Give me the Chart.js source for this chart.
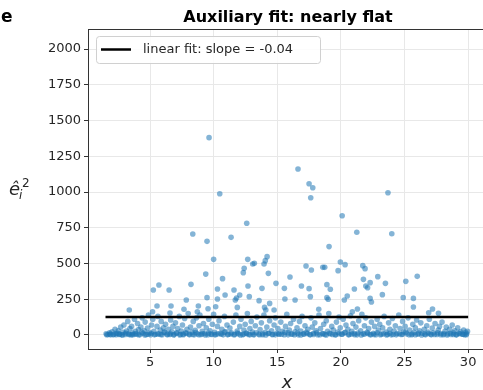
<!DOCTYPE html>
<html>
<head>
<meta charset="utf-8">
<script src="https://cdn.jsdelivr.net/npm/chart.js@4.4.1/dist/chart.umd.min.js"></script>
<style>
  html, body { margin: 0; padding: 0; background: #fff; overflow: hidden; width: 483px; height: 390px; }
  canvas { display: block; }
</style>
</head>
<body>
<canvas id="auxChart" width="496" height="390"></canvas>
<script>
// Data
const xTicks = [5, 10, 15, 20, 25, 30];
const yTicks = [0, 250, 500, 750, 1000, 1250, 1500, 1750, 2000];

// scattered residuals well above the band
const upperPts = [
  [9.64,1380],[10.48,988],[12.6,781],[16.63,1161],[17.5,1058],[17.79,1030],[17.63,960],[23.7,995],[20.1,834],
  [5.26,315],[5.7,350],[6.5,315],[3.37,175],[5.2,163],[5.55,203],[6.65,203],[6.57,154],
  [8.36,706],[9.48,655],[11.37,683],[10.0,529],[12.68,529],[9.38,426],[8.22,354],[10.7,394],[12.4,466],[12.33,436],
  [7.85,245],[9.48,261],[10.3,322],[10.3,252],[10.9,280],[11.6,315],[11.7,245],[12.05,280],[12.7,343],[8.8,203],
  [9.56,184],[10.16,198],[11.86,193],[7.67,180],[8.72,163],
  [13.2,501],[13.07,496],[14.06,520],[14.2,548],[13.96,496],[14.3,431],[13.8,326],[14.9,361],[15.56,326],[16.0,406],
  [16.9,343],[17.5,324],[17.26,482],[17.68,455],[18.58,473],[12.8,268],[13.57,240],[14.4,221],[14.0,193],[14.1,175],
  [14.75,175],[15.6,252],[16.4,245],[18.26,180],[17.6,268],[11.8,259],
  [21.25,718],[24.0,708],[19.07,618],[19.96,510],[20.33,492],[19.78,450],[18.73,473],[21.72,485],[21.9,464],[21.77,389],
  [22.3,366],[21.96,343],[22.1,330],[22.9,408],[23.5,361],[18.9,352],[19.17,320],[21.06,322],[18.9,261],[19.0,250],
  [20.5,273],[20.27,245],[22.3,256],[22.4,231],[23.26,282],[21.3,182],[20.9,163],
  [25.1,375],[26.0,410],[24.9,261],[25.7,256],[25.7,196],[27.2,182],[26.9,156],[27.67,152]
];

// the dense band under ~150
const bandPts = [
  [1.55,8],[1.7,3],[1.82,15],[1.9,1],[2.02,22],[2.15,5],[2.25,40],[2.33,2],[2.45,12],[2.5,30],
  [2.6,6],[2.7,55],[2.78,1],[2.88,18],[2.95,70],[3.05,4],[3.15,28],[3.25,95],[3.3,9],[3.42,45],[3.48,2],
  [3.55,60],[3.62,14],[3.7,3],[3.78,110],[3.85,25],[3.95,7],[4.02,80],[4.1,38],[4.2,1],[4.28,55],[4.38,120],[4.45,11],
  [4.55,30],[4.62,90],[4.7,4],[4.8,48],[4.88,140],[4.95,16],[5.05,2],[5.12,70],[5.22,110],[5.3,25],[5.42,5],
  [5.55,60],[5.62,130],[5.7,8],[5.8,35],[5.88,95],[5.95,2],[6.05,50],[6.15,18],[6.22,75],[6.35,6],[6.45,40],
  [6.55,3],[6.62,105],[6.72,22],[6.8,60],[6.9,1],[7.0,85],[7.08,12],[7.18,45],[7.3,130],[7.38,5],[7.45,28],
  [7.55,70],[7.62,2],[7.72,115],[7.8,15],[7.9,40],[8.0,150],[8.08,6],[8.18,55],[8.3,20],[8.4,95],[8.48,1],
  [8.55,33],[8.65,120],[8.72,8],[8.85,65],[8.92,140],[9.0,3],[9.1,25],[9.2,80],[9.3,10],[9.42,50],
  [9.55,2],[9.62,110],[9.72,30],[9.8,6],[9.9,75],[10.0,145],[10.08,18],[10.18,4],[10.3,60],[10.42,100],
  [10.55,12],[10.65,40],[10.75,1],[10.85,130],[10.95,22],[11.05,70],[11.15,5],[11.28,48],[11.4,15],
  [11.55,90],[11.65,3],[11.75,140],[11.85,28],[11.95,8],[12.05,60],[12.15,110],[12.28,2],[12.38,35],[12.48,75],
  [12.55,14],[12.65,150],[12.75,4],[12.85,45],[12.95,95],[13.05,20],[13.18,1],[13.28,65],[13.4,125],
  [13.55,7],[13.65,38],[13.75,85],[13.85,2],[13.95,140],[14.05,18],[14.18,55],[14.28,10],[14.4,100],
  [14.55,30],[14.65,3],[14.75,70],[14.85,120],[14.95,12],[15.05,45],[15.15,5],[15.28,90],[15.4,25],
  [15.55,2],[15.65,60],[15.75,145],[15.85,15],[15.95,35],[16.05,80],[16.18,6],[16.28,110],[16.4,22],
  [16.55,50],[16.65,1],[16.75,95],[16.85,28],[16.95,130],[17.05,8],[17.18,65],[17.28,18],[17.4,40],
  [17.55,3],[17.65,120],[17.75,55],[17.85,12],[17.95,85],[18.05,30],[18.18,2],[18.28,140],[18.4,45],
  [18.55,10],[18.65,75],[18.75,4],[18.85,100],[18.95,25],[19.05,150],[19.18,8],[19.28,60],[19.4,35],
  [19.55,2],[19.65,90],[19.75,20],[19.85,125],[19.95,50],[20.05,6],[20.18,110],[20.28,15],[20.4,70],
  [20.55,40],[20.65,3],[20.75,135],[20.85,25],[20.95,80],[21.05,10],[21.18,55],[21.28,1],[21.4,100],
  [21.55,30],[21.65,145],[21.75,8],[21.85,65],[21.95,120],[22.05,18],[22.18,45],[22.28,4],[22.4,90],
  [22.55,12],[22.65,60],[22.75,2],[22.85,110],[22.95,35],[23.05,75],[23.18,6],[23.28,50],[23.4,130],
  [23.55,20],[23.65,5],[23.75,85],[23.85,40],[23.95,1],[24.05,115],[24.18,28],[24.28,65],[24.4,10],
  [24.55,140],[24.65,45],[24.75,3],[24.85,95],[24.95,22],[25.05,60],[25.18,8],[25.28,120],[25.4,35],
  [25.55,2],[25.65,75],[25.75,18],[25.85,50],[25.95,105],[26.05,5],[26.18,30],[26.28,85],[26.4,12],
  [26.55,40],[26.65,1],[26.75,65],[26.85,20],[26.95,110],[27.05,6],[27.18,48],[27.28,15],[27.4,80],
  [27.55,3],[27.65,35],[27.75,60],[27.85,10],[27.95,90],[28.05,2],[28.18,25],[28.28,55],[28.4,8],
  [28.55,40],[28.65,4],[28.75,70],[28.85,15],[28.95,30],[29.05,1],[29.18,50],[29.28,12],[29.4,22],
  [29.55,5],[29.65,35],[29.72,2],[29.8,18],[29.88,8],[29.95,25]
];

// near-zero residuals (the solid strip along the bottom)
const zeroPts = [
  [1.6,2],[1.85,6],[2.1,1],[2.35,10],[2.6,3],[2.85,0.5],[3.1,14],[3.35,4],[3.6,1],[3.85,8],[4.1,2],[4.35,18],
  [4.6,0.5],[4.85,5],[5.1,12],[5.35,1],[5.6,7],[5.85,3],[6.1,20],[6.35,1],[6.6,9],[6.85,2],[7.1,15],[7.35,0.5],
  [7.6,6],[7.85,11],[8.1,1],[8.35,4],[8.6,17],[8.85,2],[9.1,8],[9.35,0.5],[9.6,13],[9.85,3],[10.1,1],[10.35,9],
  [10.6,5],[10.85,20],[11.1,1],[11.35,7],[11.6,2],[11.85,14],[12.1,0.5],[12.35,6],[12.6,10],[12.85,1],[13.1,4],
  [13.35,16],[13.6,2],[13.85,8],[14.1,0.5],[14.35,12],[14.6,3],[14.85,1],[15.1,9],[15.35,5],[15.6,19],[15.85,1],
  [16.1,7],[16.35,2],[16.6,13],[16.85,0.5],[17.1,6],[17.35,10],[17.6,1],[17.85,4],[18.1,15],[18.35,2],[18.6,8],
  [18.85,0.5],[19.1,12],[19.35,3],[19.6,1],[19.85,9],[20.1,5],[20.35,18],[20.6,1],[20.85,7],[21.1,2],[21.35,14],
  [21.6,0.5],[21.85,6],[22.1,11],[22.35,1],[22.6,4],[22.85,16],[23.1,2],[23.35,8],[23.6,0.5],[23.85,12],[24.1,3],
  [24.35,1],[24.6,9],[24.85,5],[25.1,20],[25.35,1],[25.6,7],[25.85,2],[26.1,13],[26.35,0.5],[26.6,6],[26.85,10],
  [27.1,1],[27.35,4],[27.6,15],[27.85,2],[28.1,8],[28.35,0.5],[28.6,12],[28.85,3],[29.1,1],[29.35,9],[29.6,5],[29.85,2]
];

// fitted line end points
const fitX = [1.5, 30];
const fitY = [126, 125];
const fitLabel = 'linear fit: slope = -0.04';

const FONT = "'DejaVu Sans', sans-serif";
const INK = '#262626';

const scatterData = [...zeroPts, ...bandPts, ...upperPts].map(p => ({ x: p[0], y: p[1] }));
const fitData = fitX.map((x, i) => ({ x: x, y: fitY[i] }));

// titles, y label, legend and top spine
const decor = {
  id: 'decor',
  afterDraw(chart) {
    const ctx = chart.ctx;
    const a = chart.chartArea;
    ctx.save();

    // top spine
    ctx.strokeStyle = '#333';
    ctx.lineWidth = 1;
    ctx.beginPath();
    ctx.moveTo(a.left, a.top + 0.5);
    ctx.lineTo(chart.width, a.top + 0.5);
    ctx.stroke();

    ctx.fillStyle = '#000';
    ctx.textBaseline = 'alphabetic';
    ctx.font = 'bold 17px ' + FONT;
    ctx.textAlign = 'left';
    ctx.fillText('e', 1, 22);

    ctx.font = 'bold 16px ' + FONT;
    ctx.textAlign = 'center';
    ctx.fillText('Auxiliary fit: nearly flat', 288, 22);

    // y label: e-hat, sub i, sup 2
    ctx.fillStyle = INK;
    ctx.textAlign = 'left';
    ctx.font = 'italic 18px ' + FONT;
    ctx.fillText('\u00ea', 9, 195);
    ctx.font = 'italic 12px ' + FONT;
    ctx.fillText('i', 19, 199);
    ctx.font = '12px ' + FONT;
    ctx.fillText('2', 22, 187);

    // x label
    ctx.font = 'italic 18px ' + FONT;
    ctx.textAlign = 'center';
    ctx.fillText('x', 287, 388);

    // legend
    const bx = 96, by = 36, bw = 224, bh = 27;
    ctx.fillStyle = 'rgba(255,255,255,0.85)';
    ctx.strokeStyle = '#d0d0d0';
    ctx.lineWidth = 1;
    ctx.beginPath();
    ctx.roundRect(bx + 0.5, by + 0.5, bw, bh, 3);
    ctx.fill();
    ctx.stroke();
    ctx.strokeStyle = '#000';
    ctx.lineWidth = 2.5;
    ctx.beginPath();
    ctx.moveTo(101, 49.5);
    ctx.lineTo(131, 49.5);
    ctx.stroke();
    ctx.fillStyle = INK;
    ctx.font = '13px ' + FONT;
    ctx.textAlign = 'left';
    ctx.textBaseline = 'middle';
    ctx.fillText(fitLabel, 143, 50);

    ctx.restore();
  }
};

const ctx = document.getElementById('auxChart').getContext('2d');
new Chart(ctx, {
  type: 'scatter',
  data: {
    datasets: [
      {
        label: fitLabel,
        type: 'line',
        data: fitData,
        borderColor: '#000',
        borderWidth: 2.5,
        pointRadius: 0,
        fill: false,
        order: 0
      },
      {
        label: 'residuals',
        data: scatterData,
        backgroundColor: 'rgba(31,119,180,0.55)',
        borderWidth: 0,
        pointRadius: 2.8,
        pointHoverRadius: 2.8,
        order: 1
      }
    ]
  },
  options: {
    responsive: false,
    animation: false,
    layout: { padding: { top: 29, right: 0, left: 0, bottom: 0 } },
    plugins: {
      legend: { display: false },
      title: { display: false },
      tooltip: { enabled: false }
    },
    scales: {
      x: {
        type: 'linear',
        min: 0.126,
        max: 31.97,
        afterBuildTicks: s => { s.ticks = xTicks.map(v => ({ value: v })); },
        afterFit: s => { s.height = 41; },
        ticks: { color: INK, font: { family: FONT, size: 13 }, padding: 2, maxRotation: 0, autoSkip: false,
                 callback: v => String(v) },
        grid: { color: '#e8e8e8', lineWidth: 1, tickColor: '#333', tickLength: 4 },
        border: { color: '#333', width: 1 }
      },
      y: {
        type: 'linear',
        min: -98,
        max: 2140,
        afterBuildTicks: s => { s.ticks = yTicks.map(v => ({ value: v })); },
        afterFit: s => { s.width = 88; },
        ticks: { color: INK, font: { family: FONT, size: 13 }, padding: 3, autoSkip: false,
                 callback: v => String(v) },
        grid: { color: '#e8e8e8', lineWidth: 1, tickColor: '#333', tickLength: 4 },
        border: { color: '#333', width: 1 }
      }
    }
  },
  plugins: [decor]
});
</script>
</body>
</html>
